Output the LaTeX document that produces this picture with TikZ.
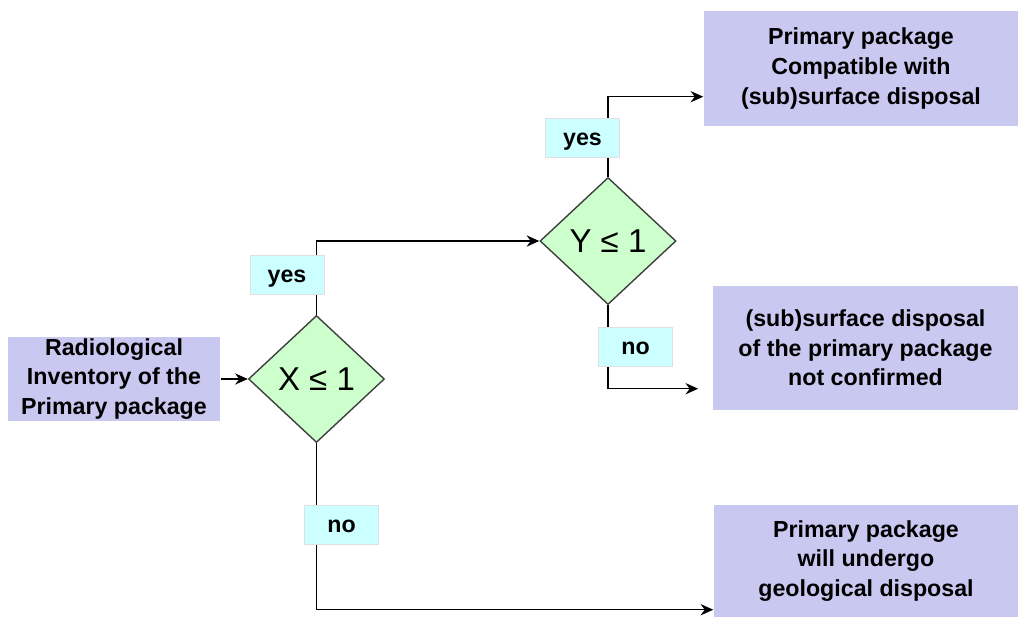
\documentclass[tikz,border=0pt]{standalone}
\usepackage{fontspec}
\setmainfont{Liberation Sans}
\usetikzlibrary{arrows.meta,positioning,shapes.geometric}

\definecolor{boxblue}{RGB}{200,200,240}
\definecolor{testgreen}{RGB}{204,255,204}
\definecolor{tagcyan}{RGB}{204,255,255}

\begin{document}
\begin{tikzpicture}[x=0.025cm,y=-0.025cm,>={Stealth[length=9pt,width=8pt]},
  line width=1pt,
  result/.style={fill=boxblue,inner sep=0pt,align=center,
    font=\bfseries\fontsize{16.5}{21}\selectfont},
  test/.style={diamond,draw=black!75,fill=testgreen,inner sep=0pt,
    minimum width=3.4cm,minimum height=3.175cm,
    font=\fontsize{23.5}{27}\selectfont},
  tag/.style={fill=tagcyan,draw=black!12,line width=0.4pt,inner sep=0pt,
    minimum width=1.85cm,minimum height=0.98cm,text height=11pt,text depth=0pt,
    font=\bfseries\fontsize{16.5}{19}\selectfont}]

  \useasboundingbox (0,0) rectangle (1018,617);

  % inventory and the two tests
  \node[result,minimum width=5.3cm,minimum height=2.1cm] (inv) at (114,379)
    {Radiological\\Inventory of the\\Primary package};
  \node[test] (xtest) [right=0.675cm of inv] {X ≤ 1};
  \node[test] (ytest) at (608,241) {Y ≤ 1};

  % outcomes
  \node[result,minimum width=7.85cm,minimum height=2.875cm] (compat) at (861,68.5)
    {Primary package\\Compatible with\\(sub)surface disposal};
  \node[result,minimum width=7.625cm,minimum height=3.1cm] (notconf) at (865.5,348)
    {(sub)surface disposal\\of the primary package\\not confirmed};
  \node[result,minimum width=7.6cm,minimum height=2.8cm] (geo) at (866,561)
    {Primary package\\will undergo\\geological disposal};

  % connectors
  \draw[->] (inv) -- (xtest);
  \draw[->] (xtest.north) |- (ytest.west);
  \draw[->] (ytest.north) |- ([yshift=0.75cm]compat.south west);
  \draw[->,shorten >=10pt] (ytest.south) |- ([yshift=0.55cm]notconf.south west);
  \draw[->] (xtest.south) |- ([yshift=0.2cm]geo.south west);

  % yes / no tags
  \node[tag] (yes1) at (287,275) {yes};
  \node[tag] (no1) at (341.5,525) {no};
  \node[tag] (yes2) at (582.5,137.5) {yes};
  \node[tag] (no2) at (635.5,346.5) {no};

\end{tikzpicture}
\end{document}
